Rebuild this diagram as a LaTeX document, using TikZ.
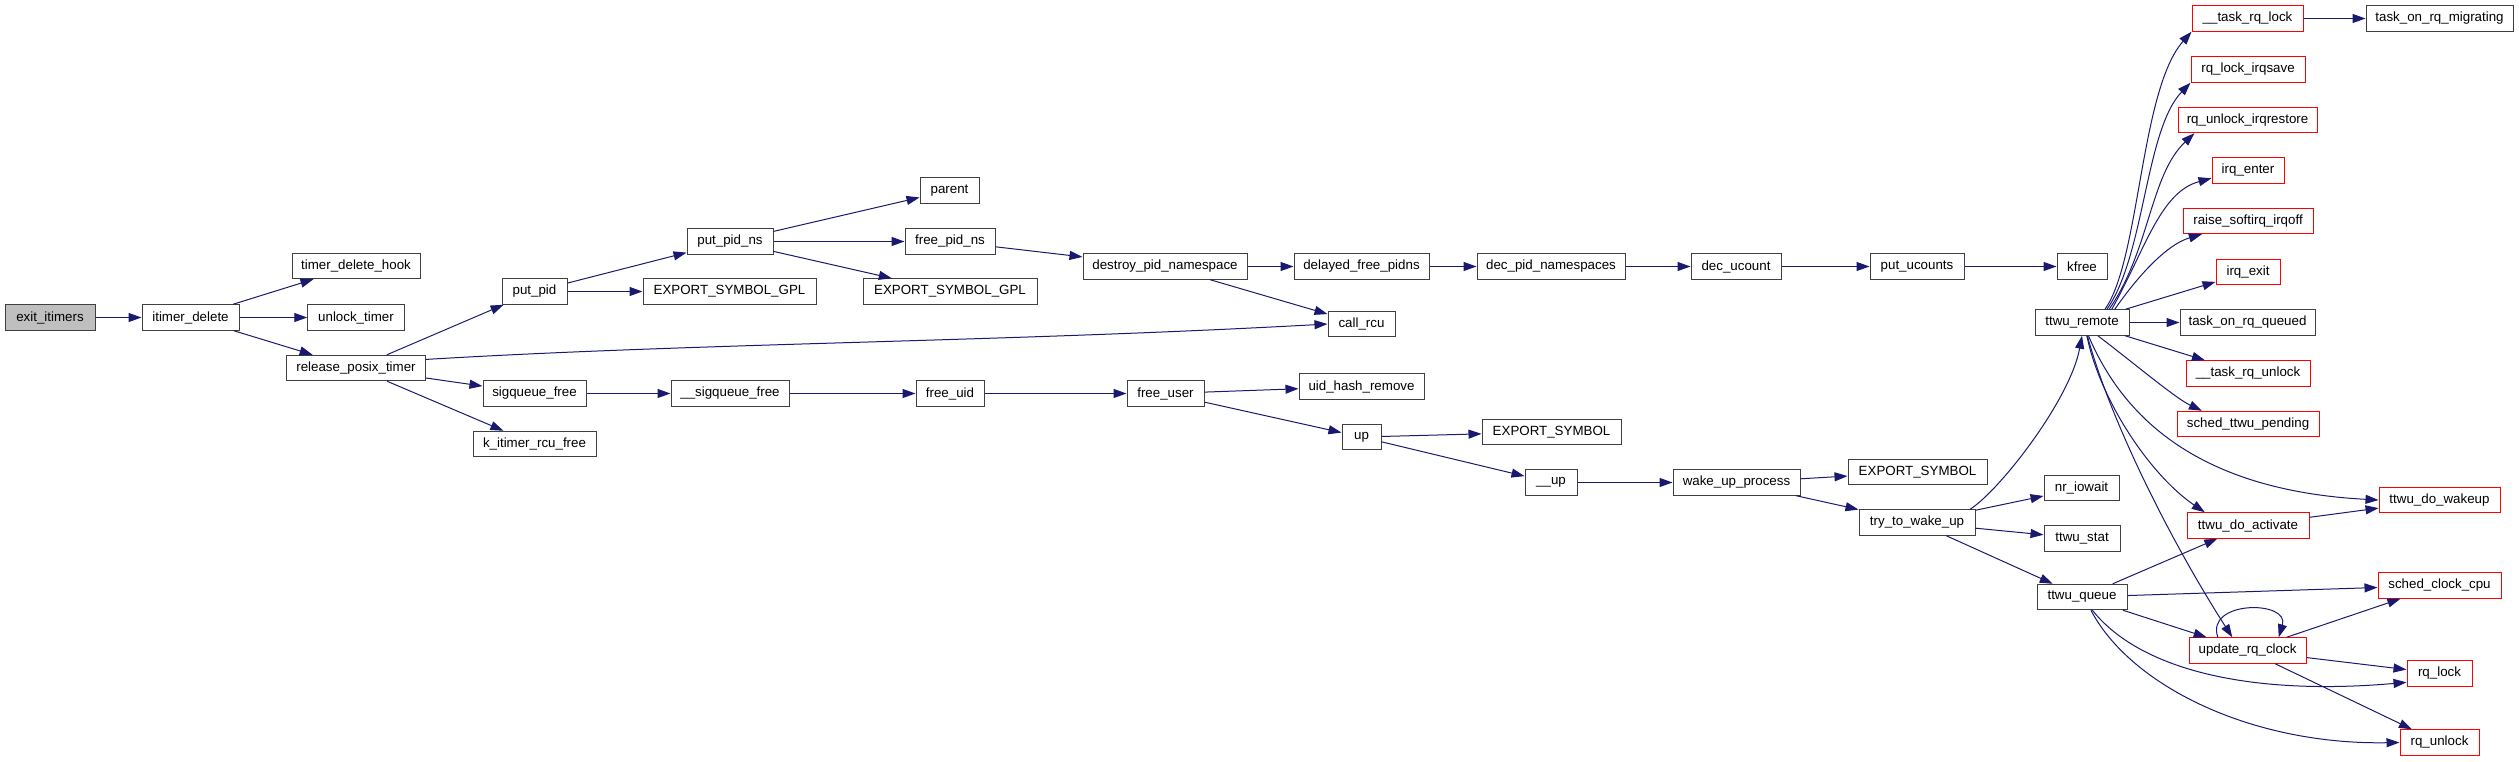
\documentclass[tikz,border=0pt]{standalone}
\usepackage{fontspec}
\setmainfont{Liberation Sans}
\usetikzlibrary{arrows.meta}
\definecolor{edgeblue}{HTML}{191970}
\definecolor{boxgray}{HTML}{BFBFBF}
\definecolor{boxline}{HTML}{404040}

\begin{document}
\begin{tikzpicture}[x=0.75pt,y=-0.75pt,
  fn/.style={draw=boxline, line width=0.75pt, fill=white, inner sep=0pt,
    minimum height=19.1pt, font=\fontsize{10}{12}\selectfont},
  trunc/.style={fn, draw=red},
  call/.style={edgeblue, line width=0.75pt, -{Triangle[length=9.75pt,width=6.75pt]}}]

\useasboundingbox (0,0) rectangle (2519,761);

\node[fn, fill=boxgray, minimum width=90*0.75pt] (exit) at (50,317.5) {exit\_itimers};

\foreach \n/\x/\y/\w/\t in {
  itdel/190.5/317.5/97/itimer\_delete,
  tdhook/356/266/128/timer\_delete\_hook,
  unlock/356/317.5/96.5/unlock\_timer,
  rpt/356/368/139/release\_posix\_timer,
  putpid/534.5/291.5/65/put\_pid,
  sqfree/534.5/393.5/103/sigqueue\_free,
  kitimer/534.5/444/123/k\_itimer\_rcu\_free,
  putpidns/730/241.5/86/put\_pid\_ns,
  esgA/729.5/291.5/173/EXPORT\_SYMBOL\_GPL,
  usqfree/730/393.5/118/\_\_sigqueue\_free,
  parent/949.5/190.5/59/parent,
  freepidns/950/241.5/90/free\_pid\_ns,
  esgB/950/291.5/174/EXPORT\_SYMBOL\_GPL,
  freeuid/950/393.5/68/free\_uid,
  destroy/1165/266.5/164/destroy\_pid\_namespace,
  freeuser/1165.5/393.5/77/free\_user,
  delayed/1361.5/266.5/135/delayed\_free\_pidns,
  callrcu/1361.5/324/67/call\_rcu,
  uidhash/1361.5/386.5/125/uid\_hash\_remove,
  up/1361.5/437/39/up,
  decpidns/1551/266.5/148/dec\_pid\_namespaces,
  esA/1551.5/432/139/EXPORT\_SYMBOL,
  uup/1551/482.5/52/\_\_up,
  decucount/1736/266.5/90/dec\_ucount,
  wakeproc/1736.5/482.5/127/wake\_up\_process,
  putucounts/1917/266.5/94/put\_ucounts,
  esB/1917.5/472/139/EXPORT\_SYMBOL,
  trywake/1917/522.5/116/try\_to\_wake\_up,
  kfree/2082/266.5/50/kfree,
  ttwuremote/2082/322.5/94/ttwu\_remote,
  nriowait/2081.5/488/75/nr\_iowait,
  ttwustat/2082/538.5/76/ttwu\_stat,
  ttwuqueue/2082/597/90/ttwu\_queue,
  taskqueued/2247.5/322.5/135/task\_on\_rq\_queued,
  taskmig/2439.5/18.5/147/task\_on\_rq\_migrating}
  \node[fn, minimum width=\w*0.75pt] (\n) at (\x,\y) {\t};

\foreach \n/\x/\y/\w/\t in {
  tasklock/2247.5/18.5/111/\_\_task\_rq\_lock,
  rqlockirq/2248/69.5/114/rq\_lock\_irqsave,
  rqunlockirq/2247.5/120/139/rq\_unlock\_irqrestore,
  irqenter/2248/170.5/72/irq\_enter,
  raisesoft/2248/221/130/raise\_softirq\_irqoff,
  irqexit/2248/272/64/irq\_exit,
  taskunlock/2248/373.5/124/\_\_task\_rq\_unlock,
  schedpending/2248/424/142/sched\_ttwu\_pending,
  ttwuact/2248/525.5/122/ttwu\_do\_activate,
  updclock/2247.5/650.5/117/update\_rq\_clock,
  ttwuwake/2439.5/500/121/ttwu\_do\_wakeup,
  schedclock/2439.5/585.5/123/sched\_clock\_cpu,
  rqlock/2439.5/673.5/65/rq\_lock,
  rqunlock/2439.5/742.5/79/rq\_unlock}
  \node[trunc, minimum width=\w*0.75pt] (\n) at (\x,\y) {\t};

\foreach \a/\b in {exit/itdel, itdel/tdhook, itdel/unlock, itdel/rpt,
  rpt/putpid, rpt/sqfree, rpt/kitimer, putpid/putpidns, putpid/esgA,
  putpidns/parent, putpidns/freepidns, putpidns/esgB, freepidns/destroy,
  destroy/delayed, destroy/callrcu, delayed/decpidns, decpidns/decucount,
  decucount/putucounts, putucounts/kfree, sqfree/usqfree, usqfree/freeuid,
  freeuid/freeuser, freeuser/uidhash, freeuser/up, up/esA, up/uup,
  uup/wakeproc, wakeproc/esB, wakeproc/trywake, trywake/nriowait,
  trywake/ttwustat, trywake/ttwuqueue, ttwuremote/irqexit,
  ttwuremote/taskqueued, ttwuremote/taskunlock, tasklock/taskmig,
  ttwuact/ttwuwake, ttwuqueue/ttwuact, ttwuqueue/schedclock,
  ttwuqueue/updclock, updclock/schedclock, updclock/rqlock, updclock/rqunlock}
  \draw[call] (\a) -- (\b);

\draw[call] (rpt.7) .. controls (700,343) and (1000,342) .. (callrcu.west);
\draw[call] (trywake.14) .. controls (2000,490) and (2070,400) .. (ttwuremote.south);

\draw[call] (ttwuremote.30) .. controls (2140,260) and (2140,90) .. (tasklock.south west);
\draw[call] (ttwuremote.28) .. controls (2145,255) and (2145,130) .. (rqlockirq.south west);
\draw[call] (ttwuremote.26) .. controls (2150,250) and (2150,175) .. (rqunlockirq.194);
\draw[call] (ttwuremote.24) .. controls (2145,250) and (2160,192) .. (irqenter.192);
\draw[call] (ttwuremote.22) .. controls (2135,280) and (2165,245) .. (raisesoft.196);

\draw[call] (ttwuremote.-40) .. controls (2130,360) and (2175,398) .. (schedpending.164);
\draw[call] (ttwuremote.-64) .. controls (2120,410) and (2190,490) .. (ttwuwake.west);
\draw[call] (ttwuremote.-70) .. controls (2100,400) and (2150,475) .. (ttwuact.163);
\draw[call] (ttwuremote.-68) .. controls (2110,420) and (2170,540) .. (updclock.139);

\draw[call] (updclock.156) .. controls (2205,600) and (2290,600) .. (updclock.23);
\draw[call] (ttwuqueue.-52) .. controls (2140,670) and (2250,696) .. (rqlock.195);
\draw[call] (ttwuqueue.-56) .. controls (2130,685) and (2250,745) .. (rqunlock.west);

\end{tikzpicture}
\end{document}
